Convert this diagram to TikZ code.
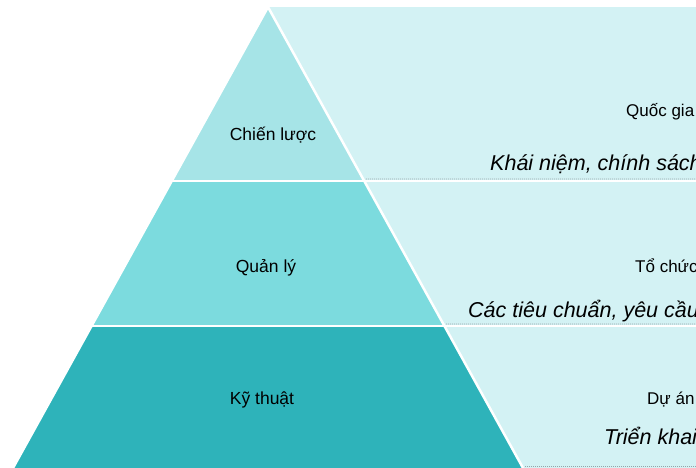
\documentclass[tikz,border=0pt]{standalone}
\usepackage{fontspec}
\setmainfont{Liberation Sans}
\usepackage{tikz}
\usetikzlibrary{calc}
\definecolor{tiertop}{RGB}{166,228,231}
\definecolor{tiermid}{RGB}{124,219,222}
\definecolor{tierbot}{RGB}{46,179,186}
\definecolor{panelbg}{RGB}{211,242,244}
\definecolor{sepgray}{RGB}{150,165,168}
\begin{document}
\begin{tikzpicture}[x=1pt,y=-1pt,every node/.style={inner sep=0pt},
  tierlbl/.style={font=\fontsize{17.5}{20}\selectfont,anchor=base},
  scopelbl/.style={font=\fontsize{17}{20}\selectfont,anchor=base west},
  desclbl/.style={font=\fontsize{21.5}{26}\selectfont\itshape,anchor=base west},
  sepline/.style={sepgray,line width=0.6pt,dash pattern=on 1pt off 1pt}]
\useasboundingbox (0,0) rectangle (696,468);
\clip (0,0) rectangle (696,468);
\coordinate (apex) at (268,7);
\coordinate (bl) at (13,468);
\coordinate (br) at (523,468);
\coordinate (l1) at ($(apex)!0.3764!(bl)$);
\coordinate (r1) at ($(apex)!0.3764!(br)$);
\coordinate (l2) at ($(apex)!0.6909!(bl)$);
\coordinate (r2) at ($(apex)!0.6909!(br)$);
% right panels
\fill[panelbg] (268,7) rectangle (700,472);
\draw[sepline] (r1) ++(2,-1.5) -- (700,179);
\draw[sepline] (r2) ++(2,-1.5) -- (700,324);
\draw[sepline] (br) ++(2,-1.5) -- (700,466.5);
% pyramid
\fill[tiertop] (apex) -- (r1) -- (l1) -- cycle;
\fill[tiermid] (l1) -- (r1) -- (r2) -- (l2) -- cycle;
\fill[tierbot] (l2) -- (r2) -- (br) -- (bl) -- cycle;
\draw[white,line width=2.5pt] (bl) -- (apex) -- (br);
\draw[white,line width=2pt] (0,180.5) -- (700,180.5);
\draw[white,line width=2pt] (0,325.5) -- (700,325.5);
% labels
\node[tierlbl] (strat) at (273,141) {Chiến lược};
\node[tierlbl] (mgmt) at (266,272) {Quản lý};
\node[tierlbl] (tech) at (262,404) {Kỹ thuật};
\node[scopelbl] (nation) at (626,117) {Quốc gia};
\node[desclbl] (policy) at (490,171) {Khái niệm, chính sách};
\node[scopelbl] (org) at (635,272) {Tổ chức};
\node[desclbl] (standard) at (468,317) {Các tiêu chuẩn, yêu cầu};
\node[scopelbl] (project) at (647,404) {Dự án};
\node[desclbl] (deploy) at (604,444) {Triển khai};
\end{tikzpicture}
\end{document}
